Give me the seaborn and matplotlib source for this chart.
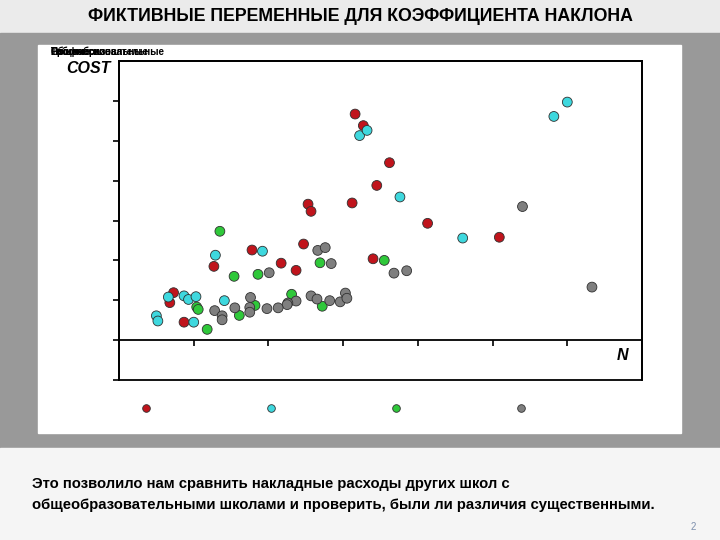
import numpy as np
import pandas as pd
import seaborn as sns
import matplotlib.pyplot as plt
from matplotlib.patches import Rectangle
from matplotlib.lines import Line2D

# Data (N on x, COST on y, in tick units)
red_n = [3.16, 3.27, 3.62, 3.45, 3.12, 2.53, 2.57, 2.47, 1.78, 2.17, 1.27, 2.37, 3.40, 0.73, 0.68, 0.87, 4.13, 5.09]
red_cost = [5.67, 5.38, 4.45, 3.88, 3.44, 3.41, 3.23, 2.41, 2.26, 1.93, 1.85, 1.75, 2.04, 1.19, 0.94, 0.45, 2.93, 2.58]

cyan_n = [3.22, 3.32, 3.76, 1.29, 1.92, 0.66, 0.87, 0.93, 1.03, 1.41, 0.50, 0.52, 1.00, 6.00, 5.82, 4.60]
cyan_cost = [5.13, 5.26, 3.59, 2.13, 2.23, 1.08, 1.11, 1.02, 1.09, 0.99, 0.61, 0.48, 0.45, 5.97, 5.61, 2.56]

green_n = [1.35, 1.54, 1.86, 2.69, 3.55, 2.31, 1.04, 1.06, 1.82, 1.61, 2.72, 1.18]
green_cost = [2.73, 1.60, 1.65, 1.94, 2.00, 1.15, 0.83, 0.77, 0.87, 0.62, 0.85, 0.27]

gray_n = [2.66, 2.76, 2.84, 2.01, 3.68, 1.76, 2.57, 2.65, 2.82, 2.96, 3.03, 3.05, 2.37, 2.26,
          2.25, 2.13, 1.98, 1.75, 1.75, 1.55, 1.28, 1.38, 1.38, 5.40, 3.85, 6.33]
gray_cost = [2.25, 2.32, 1.92, 1.69, 1.68, 1.07, 1.11, 1.03, 0.99, 0.96, 1.18, 1.05, 0.98, 0.93,
             0.89, 0.81, 0.79, 0.82, 0.70, 0.81, 0.74, 0.61, 0.51, 3.35, 1.74, 1.33]

groups = ['Профессиональные', 'Общеобразовательные', 'Технические', 'Рабочие']
colors = ['#C0141C', '#3ED8DE', '#2FC83A', '#7F7F7F']

df = pd.concat([
    pd.DataFrame({'N': red_n, 'COST': red_cost, 'school': groups[0]}),
    pd.DataFrame({'N': cyan_n, 'COST': cyan_cost, 'school': groups[1]}),
    pd.DataFrame({'N': green_n, 'COST': green_cost, 'school': groups[2]}),
    pd.DataFrame({'N': gray_n, 'COST': gray_cost, 'school': groups[3]}),
])

sns.set_style('white')
plt.rcParams['font.family'] = ['Liberation Sans', 'DejaVu Sans']
plt.rcParams['text.color'] = 'black'

fig = plt.figure(figsize=(7.2, 5.4), dpi=100)

# slide background
fig.patches.append(Rectangle((0, 0.9389), 1, 0.0611, transform=fig.transFigure, color='#EBEBEB', zorder=-3))
fig.patches.append(Rectangle((0, 0.1704), 1, 0.7685, transform=fig.transFigure, color='#999999', zorder=-3))
fig.patches.append(Rectangle((0, 0), 1, 0.1704, transform=fig.transFigure, color='#F5F5F5', zorder=-3))
fig.patches.append(Rectangle((0.0528, 0.1981), 0.893, 0.7186, transform=fig.transFigure, color='white', zorder=-2))

fig.text(0.5, 0.970, 'ФИКТИВНЫЕ ПЕРЕМЕННЫЕ ДЛЯ КОЭФФИЦИЕНТА НАКЛОНА', ha='center', va='center',
         fontsize=12.8, fontweight='bold')

ax = fig.add_axes([0.1653, 0.2963, 0.7264, 0.5907])
sns.scatterplot(data=df, x='N', y='COST', hue='school', palette=colors, hue_order=groups,
                s=50, edgecolor='#303030', linewidth=0.6, legend=False, ax=ax, zorder=3)
ax.set_xlim(0, 7)
ax.set_ylim(-1, 7)
ax.set_xticks(range(1, 7))
ax.set_yticks(range(-1, 7))
ax.set_xticklabels([])
ax.set_yticklabels([])
ax.set_xlabel('')
ax.set_ylabel('')
ax.spines['bottom'].set_position(('data', 0))
for sp in ax.spines.values():
    sp.set_linewidth(1.3)
    sp.set_color('black')
ax.add_patch(Rectangle((0, 0), 1, 1, transform=ax.transAxes, fill=False, lw=1.3,
                       edgecolor='black', clip_on=False))
ax.tick_params(axis='both', direction='out', length=4, width=1.2, color='black')
ax.tick_params(axis='x', bottom=True)
ax.tick_params(axis='y', left=True)

ax.text(-0.101, 0.978, 'COST', transform=ax.transAxes, ha='left', va='center',
        fontsize=11.5, fontweight='bold', style='italic')
ax.text(0.962, 0.078, 'N', transform=ax.transAxes, ha='center', va='center',
        fontsize=11.5, fontweight='bold', style='italic')

# overlapping labels in the corner of the chart panel
for lab in groups:
    fig.text(0.070, 0.904, lab, ha='left', va='center', fontsize=7, fontweight='bold')

handles = [Line2D([], [], marker='o', ls='', markersize=5.5, markerfacecolor=c,
                  markeredgecolor='#303030', markeredgewidth=0.6) for c in colors]
fig.legend(handles, [''] * 4, ncol=4, loc='center', bbox_to_anchor=(0.463, 1 - 409 / 540),
           frameon=False, handlelength=1, handletextpad=0, columnspacing=8.0, fontsize=10)

fig.text(0.044, 1 - 484 / 540, 'Это позволило нам сравнить накладные расходы других школ с',
         ha='left', va='center', fontsize=10.7, fontweight='bold')
fig.text(0.044, 1 - 505 / 540, 'общеобразовательными школами и проверить, были ли различия существенными.',
         ha='left', va='center', fontsize=10.7, fontweight='bold')
fig.text(0.963, 1 - 527 / 540, '2', ha='center', va='center', fontsize=7, color='#7D8FAD')

fig.savefig('out.png', dpi=100)
